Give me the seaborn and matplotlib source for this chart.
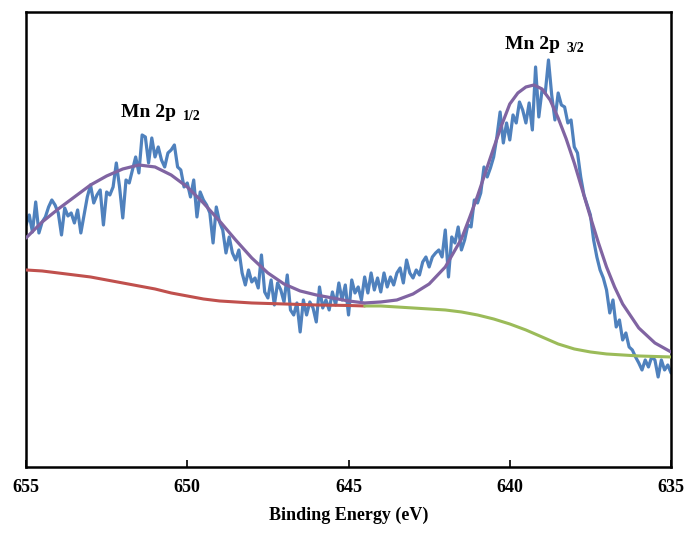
import numpy as np
import pandas as pd
import matplotlib
matplotlib.use("Agg")
import matplotlib.pyplot as plt
import seaborn as sns

# Mn 2p XPS spectrum: measured counts (0.1 eV steps, 655 -> 635 eV)
energy_start, energy_stop = 655.0, 635.0
raw_counts = [
    242, 252, 235, 265, 234, 245, 250, 260, 267, 262,
    254, 232, 259, 251, 254, 244, 257, 234, 252, 270,
    282, 264, 272, 277, 242, 275, 272, 280, 304, 280,
    249, 287, 284, 297, 310, 294, 332, 330, 304, 329,
    310, 320, 307, 300, 314, 317, 322, 300, 297, 280,
    284, 270, 287, 250, 275, 267, 262, 254, 224, 260,
    245, 237, 214, 230, 214, 207, 217, 194, 182, 197,
    185, 189, 179, 212, 175, 169, 187, 162, 184, 177,
    165, 192, 157, 152, 164, 135, 167, 152, 165, 159,
    145, 180, 159, 167, 157, 175, 162, 184, 167, 182,
    152, 187, 174, 180, 167, 190, 174, 194, 177, 189,
    175, 194, 180, 190, 182, 194, 199, 184, 207, 194,
    189, 197, 192, 205, 210, 200, 210, 214, 217, 210,
    237, 190, 230, 224, 240, 217, 227, 242, 240, 267,
    264, 274, 300, 290, 299, 310, 330, 355, 324, 344,
    327, 352, 344, 365, 357, 344, 364, 337, 400, 350,
    377, 374, 407, 372, 347, 374, 362, 360, 344, 347,
    320, 314, 290, 272, 262, 252, 227, 210, 197, 189,
    177, 154, 167, 140, 147, 127, 134, 120, 117, 110,
    104, 97, 107, 100, 110, 107, 90, 107, 97, 102,
    94,
]

# Fitted envelope (Mn 2p1/2 + Mn 2p3/2 components on background)
fit_energy = [655.0, 654.5, 654.0, 653.5, 653.0, 652.5, 652.0, 651.5, 651.0, 650.5,
              650.0, 649.5, 649.0, 648.5, 648.0, 647.5, 647.0, 646.5, 646.0, 645.5,
              645.0, 644.5, 644.0, 643.5, 643.0, 642.5, 642.0, 641.5, 641.25, 641.0,
              640.75, 640.5, 640.25, 640.0, 639.75, 639.5, 639.25, 639.0, 638.75, 638.5,
              638.25, 638.0, 637.75, 637.5, 637.25, 637.0, 636.75, 636.5, 636.0, 635.5,
              635.0]
fit_counts = [229, 245, 258, 270, 282, 291, 298, 302, 300, 292,
              280, 264, 246, 227, 209, 194, 183, 176, 172, 169,
              166, 164, 165, 167, 173, 183, 200, 228, 249, 271,
              295, 319, 342, 363, 374, 380, 382, 378, 367, 349,
              328, 304, 277, 250, 224, 200, 180, 163, 139, 124,
              115]

# Shirley-type backgrounds under the two spin-orbit components
bg_high_energy = [655.0, 654.5, 654.0, 653.5, 653.0, 652.5, 652.0, 651.5, 651.0, 650.5,
                  650.0, 649.5, 649.0, 648.5, 648.0, 647.0, 646.0, 645.0, 644.5]
bg_high_counts = [197, 196, 194, 192, 190, 187, 184, 181, 178, 174,
                  171, 168, 166, 165, 164, 163, 162, 161.5, 161]
bg_low_energy = [644.5, 644.0, 643.5, 643.0, 642.5, 642.0, 641.5, 641.0, 640.5, 640.0,
                 639.5, 639.0, 638.5, 638.0, 637.5, 637.0, 636.5, 636.0, 635.5, 635.0]
bg_low_counts = [161, 161, 160, 159, 158, 157, 155, 152, 148, 143,
                 137, 130, 123, 118, 115, 113, 112, 111, 110.5, 110]

x_ticks = [655, 650, 645, 640, 635]
peak_labels = [("Mn 2p", "1/2", 652.05, 354), ("Mn 2p", "3/2", 640.15, 422)]

n_points = len(raw_counts)
raw_energy = np.linspace(energy_start, energy_stop, n_points)

raw_df = pd.DataFrame({"energy": raw_energy, "counts": raw_counts})
fit_df = pd.DataFrame({"energy": fit_energy, "counts": fit_counts})
bg1_df = pd.DataFrame({"energy": bg_high_energy, "counts": bg_high_counts})
bg2_df = pd.DataFrame({"energy": bg_low_energy, "counts": bg_low_counts})

sns.set_theme(style="white")
plt.rcParams["font.family"] = ["Liberation Serif", "DejaVu Serif"]
plt.rcParams["font.weight"] = "bold"
plt.rcParams["text.color"] = "black"
plt.rcParams["axes.labelcolor"] = "black"
plt.rcParams["xtick.color"] = "black"

fig = plt.figure(figsize=(6.92, 5.37), dpi=100)
ax = fig.add_axes([0.0376, 0.1304, 0.9321, 0.8473])

common = dict(x="energy", y="counts", sort=False, estimator=None, ax=ax)
sns.lineplot(data=raw_df, color="#4F81BD", linewidth=2.3, zorder=2, **common)
sns.lineplot(data=bg1_df, color="#C0504D", linewidth=2.2, zorder=3, **common)
sns.lineplot(data=bg2_df, color="#9BBB59", linewidth=2.2, zorder=3, **common)
sns.lineplot(data=fit_df, color="#8064A2", linewidth=2.3, zorder=4, **common)

ax.set_xlim(655, 635)
ax.set_ylim(0, 455)
ax.set_xticks(x_ticks)
ax.set_xticklabels([str(t) for t in x_ticks], fontsize=13, fontweight="bold",
                   color="black")
ax.set_yticks([])
ax.tick_params(axis="x", direction="in", length=5, width=1.2, pad=9,
               bottom=True, color="black")
ax.set_xlabel("Binding Energy (eV)", fontsize=13, fontweight="bold",
              labelpad=7, color="black")
ax.set_ylabel("")

for spine in ax.spines.values():
    spine.set_visible(True)
    spine.set_color("black")
    spine.set_linewidth(1.8)

for main, sub, ex, cy in peak_labels:
    t = ax.text(ex, cy, main, ha="left", va="center", fontsize=14,
                fontweight="bold", color="black")
    ax.annotate(sub, xy=(1, 0), xycoords=t, xytext=(5, -1),
                textcoords="offset points", ha="left", va="bottom",
                fontsize=10, fontweight="bold", color="black")

fig.savefig("out.png", dpi=100)
